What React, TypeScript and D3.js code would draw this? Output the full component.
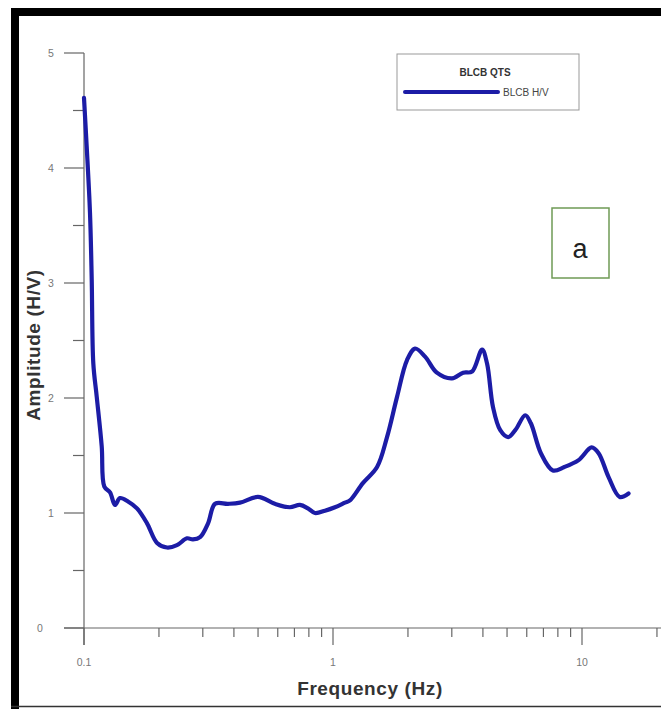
import React from "react";
import * as d3 from "d3";

// H/V spectral ratio for station BLCB
const frequency = [
  0.1, 0.1025, 0.1057, 0.1074, 0.109, 0.1125, 0.1178, 0.1207, 0.1272, 0.1332,
  0.1395, 0.1502, 0.1632, 0.1791, 0.1965, 0.2154, 0.2362, 0.2591, 0.2739,
  0.2925, 0.3149, 0.3361, 0.3786, 0.4232, 0.4995, 0.5841, 0.6712, 0.7364,
  0.7934, 0.8464, 0.9284, 1.0183, 1.1167, 1.17, 1.318, 1.503, 1.648, 1.808,
  1.983, 2.136, 2.343, 2.613, 3.005, 3.332, 3.619, 3.969, 4.156, 4.392, 4.696,
  5.052, 5.395, 5.918, 6.232, 6.836, 7.638, 8.494, 9.692, 10.93, 11.66, 12.8,
  14.17, 15.38,
];
const amplitude = [
  4.61, 4.19, 3.61, 3.03, 2.3, 2.01, 1.58, 1.23, 1.18, 1.07, 1.13, 1.1, 1.04,
  0.91, 0.74, 0.7, 0.72, 0.78, 0.77, 0.79, 0.91, 1.08, 1.08, 1.09, 1.14, 1.08,
  1.05, 1.07, 1.04, 1.0, 1.02, 1.05, 1.09, 1.11, 1.26, 1.4, 1.66, 2.01, 2.33,
  2.43, 2.36, 2.22, 2.17, 2.22, 2.23, 2.42, 2.3, 1.92, 1.72, 1.66, 1.72, 1.85,
  1.78, 1.52, 1.37, 1.4, 1.46, 1.57, 1.52, 1.31, 1.14, 1.17,
];

const xTickLabels = ["0.1", "1", "10"];
const xMajorTicks = [0.1, 1, 10];
const yTicks = [0, 1, 2, 3, 4, 5];
const yMinorTicks = [0.5, 1.5, 2.5, 3.5, 4.5];

const legendTitle = "BLCB QTS";
const seriesName = "BLCB H/V";
const panelLabel = "a";

const W = 661;
const H = 709;
const LINE = "#1c1ca6";
const AXIS = "#666";

export default function App() {
  const x = d3.scaleLog().domain([0.1, 10]).range([84, 582]);
  const y = d3.scaleLinear().domain([0, 5]).range([628, 53]);

  const minorX: number[] = [];
  for (const dec of [0.1, 1, 10]) {
    for (let k = 2; k <= 9; k++) {
      const v = dec * k;
      if (x(v) <= 658) minorX.push(v);
    }
  }

  const pts = frequency.map((f, i) => [f, amplitude[i]] as [number, number]);
  const line = d3
    .line<[number, number]>()
    .x((d) => x(d[0]))
    .y((d) => y(d[1]))
    .curve(d3.curveCatmullRom.alpha(0.5));

  const x0 = x(0.1);
  const yBase = y(0);

  return (
    <svg
      width={W}
      height={H}
      viewBox={`0 0 ${W} ${H}`}
      style={{ position: "absolute", left: 0, top: 0, background: "#fff" }}
      fontFamily="Arial, 'Liberation Sans', sans-serif"
    >
      <rect x={0} y={0} width={W} height={H} fill="#fff" />
      {/* frame */}
      <rect x={11} y={8} width={W - 11} height={8} fill="#000" />
      <rect x={11} y={8} width={8} height={H - 8} fill="#000" />
      <line x1={11} x2={W} y1={706.5} y2={706.5} stroke="#333" strokeWidth={1.5} />

      {/* y axis */}
      <line x1={x0} x2={x0} y1={y(5)} y2={yBase + 17} stroke={AXIS} strokeWidth={1.2} />
      {yTicks.map((t) => (
        <g key={`yt${t}`}>
          <line x1={x0 - 20} x2={x0} y1={y(t)} y2={y(t)} stroke={AXIS} strokeWidth={1.2} />
          <text
            x={t === 0 ? 40 : 51}
            y={y(t)}
            dy="0.35em"
            textAnchor="middle"
            fontSize={10.5}
            fill="#777"
          >
            {t}
          </text>
        </g>
      ))}
      {yMinorTicks.map((t) => (
        <line key={`ym${t}`} x1={x0 - 11} x2={x0} y1={y(t)} y2={y(t)} stroke={AXIS} strokeWidth={1.2} />
      ))}

      {/* x axis */}
      <line x1={x0 - 20} x2={W} y1={yBase} y2={yBase} stroke={AXIS} strokeWidth={1.2} />
      {xMajorTicks.map((t, i) => (
        <g key={`xt${t}`}>
          <line x1={x(t)} x2={x(t)} y1={yBase} y2={yBase + 17} stroke={AXIS} strokeWidth={1.2} />
          <text x={x(t)} y={666} textAnchor="middle" fontSize={10.5} fill="#777">
            {xTickLabels[i]}
          </text>
        </g>
      ))}
      {minorX.map((t) => (
        <line key={`xm${t}`} x1={x(t)} x2={x(t)} y1={yBase} y2={yBase + 9} stroke={AXIS} strokeWidth={1.2} />
      ))}

      {/* axis titles */}
      <text x={370} y={695} textAnchor="middle" fontSize={19} fontWeight="bold" fill="#333" letterSpacing={0.6}>
        Frequency (Hz)
      </text>
      <text
        transform={`translate(40,345) rotate(-90)`}
        textAnchor="middle"
        fontSize={19}
        fontWeight="bold"
        fill="#333"
        letterSpacing={0.6}
      >
        Amplitude (H/V)
      </text>

      {/* data curve */}
      <path d={line(pts) ?? ""} fill="none" stroke={LINE} strokeWidth={4.2} strokeLinejoin="round" strokeLinecap="round" />

      {/* legend */}
      <rect x={397} y={54} width={182} height={56} fill="#fff" stroke="#999" strokeWidth={1} />
      <text x={485} y={76} textAnchor="middle" fontSize={10} fontWeight="bold" fill="#333">
        {legendTitle}
      </text>
      <line x1={405} x2={498} y1={92} y2={92} stroke={LINE} strokeWidth={4} strokeLinecap="round" />
      <text x={503} y={96} fontSize={10} fill="#444">
        {seriesName}
      </text>

      {/* panel label */}
      <rect x={552} y={208} width={57} height={70} fill="#fff" stroke="#6f9a55" strokeWidth={1.5} />
      <text x={580} y={258} textAnchor="middle" fontSize={27} fill="#222">
        {panelLabel}
      </text>
    </svg>
  );
}
